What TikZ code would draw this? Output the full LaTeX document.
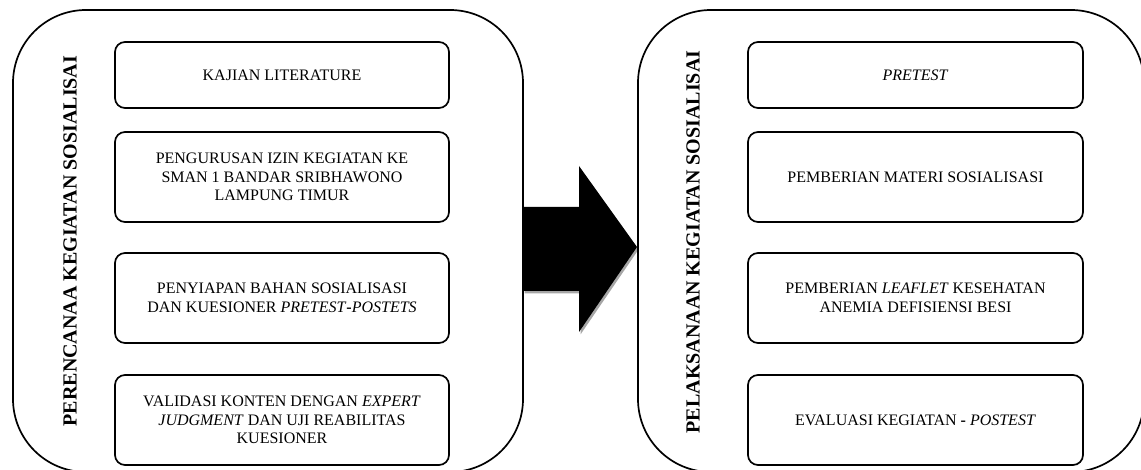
\documentclass[tikz,border=0pt]{standalone}
\usepackage{fontspec}
\setmainfont{Liberation Serif}
\begin{document}
\begin{tikzpicture}[x=1pt,y=-1pt,
  outerbox/.style={draw, line width=1.7pt, rounded corners=73pt, inner sep=0pt},
  stepbox/.style={draw, line width=1.7pt, rounded corners=10pt, inner sep=2pt,
    minimum width=334pt, align=center, font=\fontsize{16}{18.5}\selectfont},
  sidelabel/.style={rotate=90, font=\bfseries\fontsize{20}{22}\selectfont, inner sep=0pt}]
\useasboundingbox (0,0) rectangle (1141,470);
% block arrow with shadow
\fill[black!35] (524.5,209.5) -- (580.5,209.5) -- (580.5,168.5) -- (638.5,249.5) -- (580.5,334.5) -- (580.5,293.5) -- (524.5,293.5) -- cycle;
\fill[black] (523,207) -- (579,207) -- (579,166) -- (637,247) -- (579,332) -- (579,291) -- (523,291) -- cycle;
% outer boxes
\node[outerbox, minimum width=510pt, minimum height=462pt] (plan) at (268,241) {};
\node[outerbox, minimum width=506pt, minimum height=462pt] (exec) at (891,241) {};
% side labels
\node[sidelabel] (planlabel) at (70,241) {PERENCANAA KEGIATAN SOSIALISAI};
\node[sidelabel] (execlabel) at (693,242) {PELAKSANAAN KEGIATAN SOSIALISAI};
% left steps
\node[stepbox, minimum height=66pt] (k1) at (282,75) {KAJIAN LITERATURE};
\node[stepbox, minimum height=90pt] (k2) at (282,177) {PENGURUSAN IZIN KEGIATAN KE\\SMAN 1 BANDAR SRIBHAWONO\\LAMPUNG TIMUR};
\node[stepbox, minimum height=90pt] (k3) at (282,298) {PENYIAPAN BAHAN SOSIALISASI\\DAN KUESIONER \textit{PRETEST}\textbf{-}\textit{POSTETS}};
\node[stepbox, minimum height=90pt] (k4) at (282,420) {VALIDASI KONTEN DENGAN \textit{EXPERT}\\\textit{JUDGMENT} DAN UJI REABILITAS\\KUESIONER};
% right steps
\node[stepbox, minimum width=335pt, minimum height=66pt] (p1) at (915.5,75) {\textit{PRETEST}};
\node[stepbox, minimum width=335pt, minimum height=90pt] (p2) at (915.5,177) {PEMBERIAN MATERI SOSIALISASI};
\node[stepbox, minimum width=335pt, minimum height=90pt] (p3) at (915.5,298) {PEMBERIAN \textit{LEAFLET} KESEHATAN\\ANEMIA DEFISIENSI BESI};
\node[stepbox, minimum width=335pt, minimum height=90pt] (p4) at (915.5,420) {EVALUASI KEGIATAN \textbf{-} \textit{POSTEST}};
\end{tikzpicture}
\end{document}
